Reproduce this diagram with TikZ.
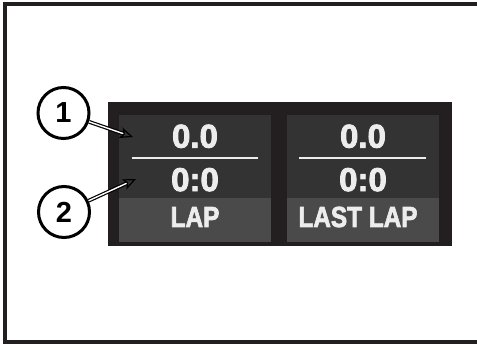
\documentclass[tikz,border=0pt]{standalone}
\usepackage{fontspec}
\setmainfont{Liberation Sans}
\newfontfamily\dispfont{Liberation Sans}[BoldFeatures={FakeBold=2.5}]
\usetikzlibrary{arrows.meta}
\definecolor{bezel}{HTML}{231F20}
\definecolor{panel}{HTML}{333333}
\definecolor{band}{HTML}{4A4A4A}
\definecolor{digit}{HTML}{EDEDED}
\tikzset{
  callout/.style={circle,draw,line width=3pt,minimum size=51pt,inner sep=0pt,
    font=\bfseries\fontsize{29}{29}\selectfont},
  readout/.style={text=digit,inner sep=0pt,font=\dispfont\bfseries\fontsize{33}{33}\selectfont},
  caption/.style={text=digit,inner sep=0pt,xscale=.84,font=\dispfont\bfseries\fontsize{29}{29}\selectfont},
  divider/.style={draw=digit,line width=2pt},
  pointer/.style={double=white,double distance=1.4pt,line width=1.2pt,
    -{Stealth[open,length=13pt,width=11pt,inset=3pt]}}
}
\begin{document}
\begin{tikzpicture}[x=1pt,y=-1pt]
  \useasboundingbox (0,0) rectangle (477,344);
  % frame
  \draw[line width=4pt,bezel] (477,4.5) -- (4.5,4.5) -- (4.5,342.5) -- (477,342.5);
  % display
  \fill[bezel] (108,102) rectangle (452,246);
  \fill[panel] (119,115) rectangle (271,242);
  \fill[panel] (287,115) rectangle (439,242);
  \fill[band] (119,198) rectangle (271,242);
  \fill[band] (287,198) rectangle (439,242);
  \draw[divider] (132,158) -- (258,158);
  \draw[divider] (299,158) -- (426,158);
  \node[readout] (lapTime) at (195,136.3) {0.0};
  \node[readout] (lapCount) at (195,179.7) {0:0};
  \node[caption] (lapLabel) at (195,217) {LAP};
  \node[readout] (lastTime) at (363,136.3) {0.0};
  \node[readout] (lastCount) at (363,179.7) {0:0};
  \node[caption] (lastLabel) at (358,217) {LAST LAP};
  % callouts
  \node[callout] (c1) at (63.5,113) {1};
  \node[callout] (c2) at (64,212) {2};
  \coordinate (t1) at (133,137);
  \coordinate (t2) at (136,179);
  \draw[pointer] (c1) -- (t1);
  \draw[pointer] (c2) -- (t2);
\end{tikzpicture}
\end{document}
